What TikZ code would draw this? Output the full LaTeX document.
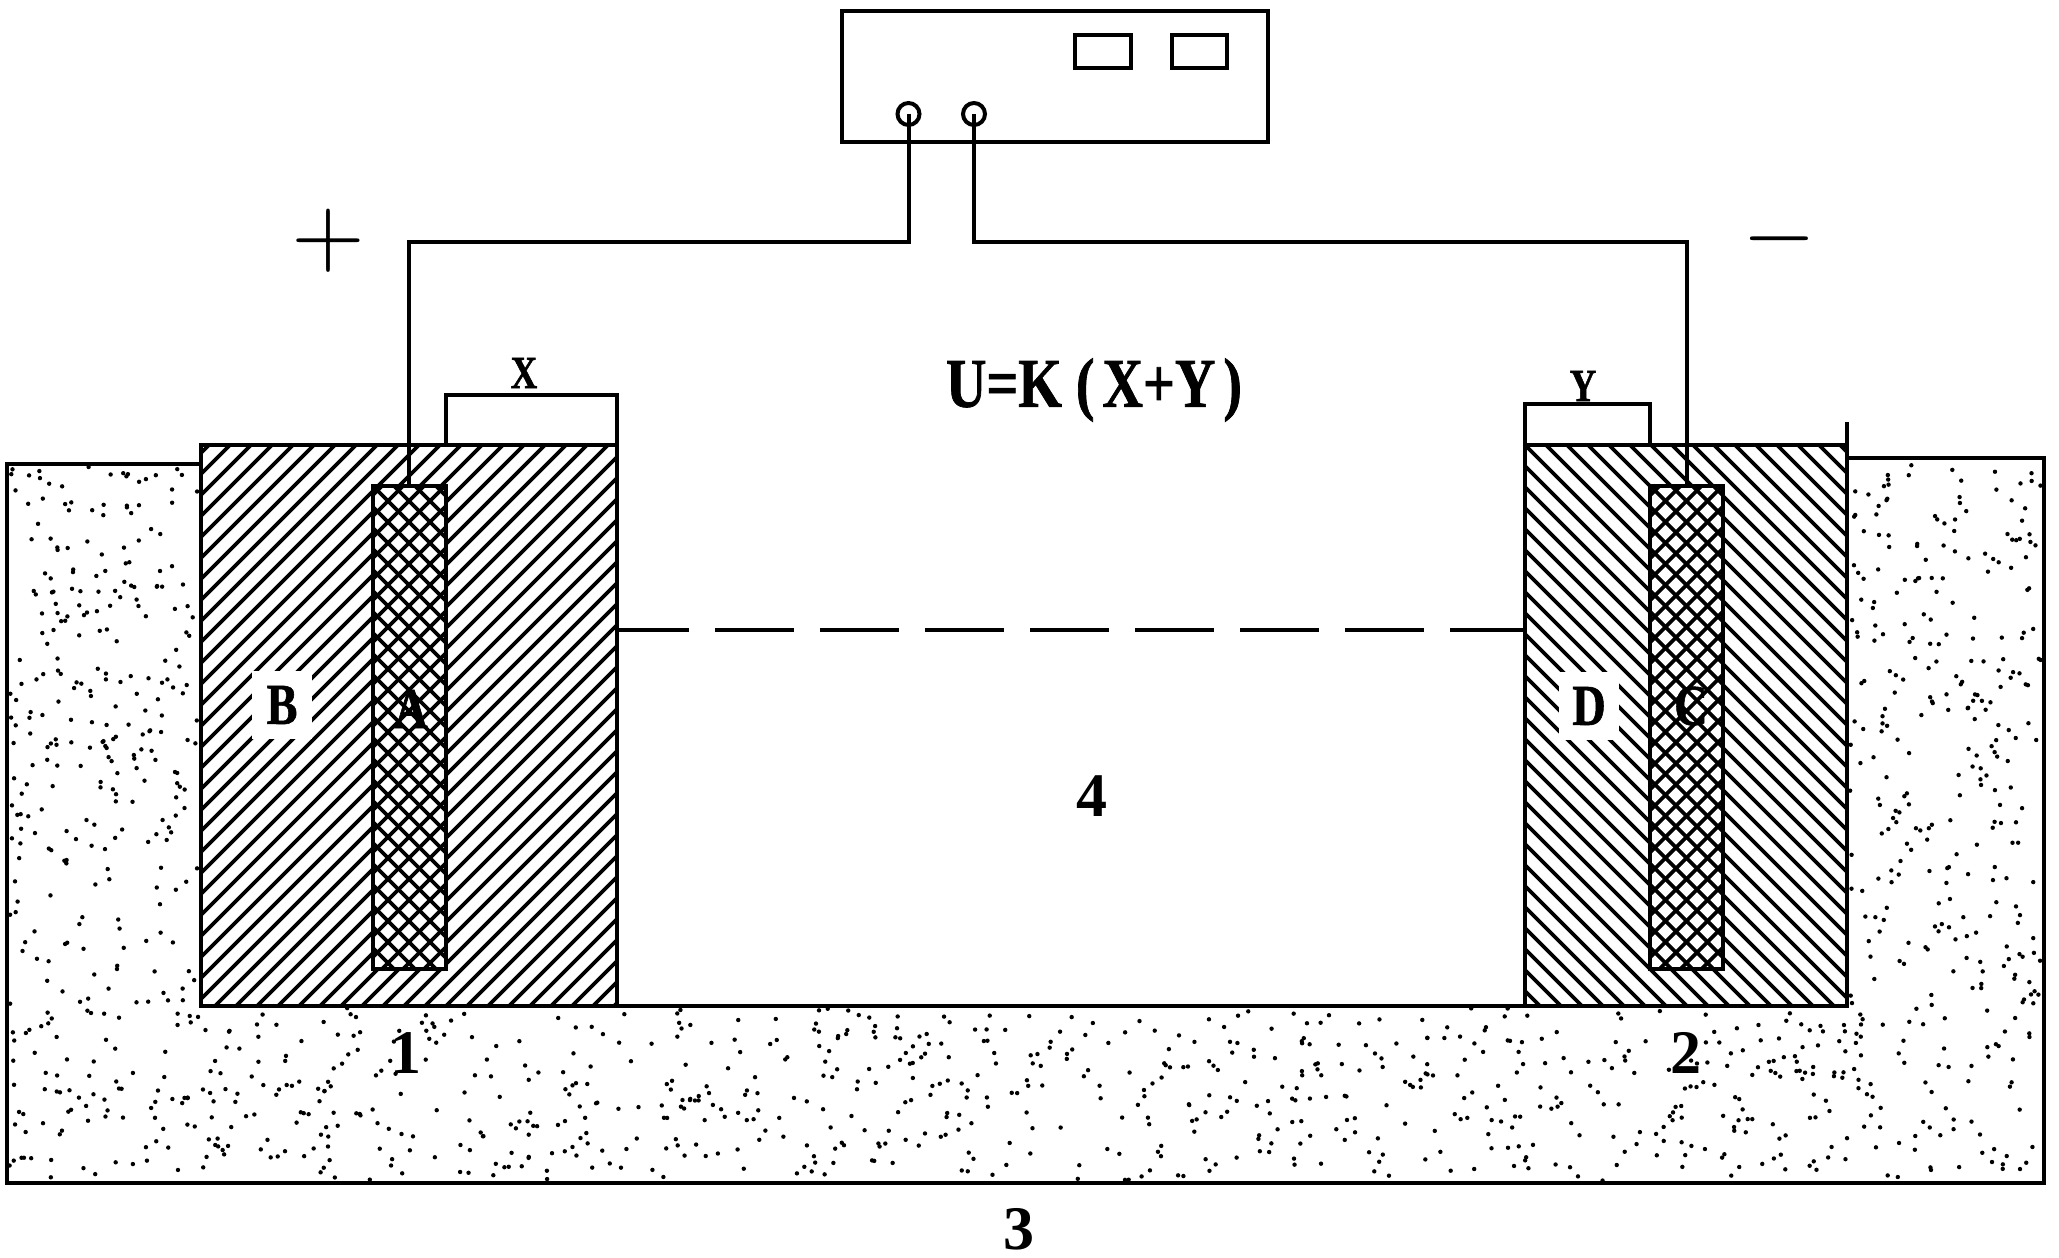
\documentclass[tikz,border=0pt]{standalone}
\usepackage{fontspec}
\setmainfont{Liberation Serif}
\newcommand{\hatchstep}{21}
\newcommand{\narrowbold}{\bfseries\addfontfeature{FakeStretch=0.8,FakeBold=1}}
\begin{document}
\begin{tikzpicture}[x=1pt, y=-1pt, line width=4pt,
        blockb/.style={rectangle, draw, inner sep=0, outer sep=0, minimum width=416pt, minimum height=561pt},
        blockd/.style={rectangle, draw, inner sep=0, outer sep=0, minimum width=322pt, minimum height=561pt},
        electrode/.style={rectangle, draw, inner sep=0, outer sep=0, minimum width=73pt, minimum height=483pt},
        meter/.style={rectangle, draw, inner sep=0, outer sep=0},
        jack/.style={circle, draw, inner sep=0, outer sep=0, minimum width=22pt},
        lbl/.style={inner sep=0, font=\fontsize{58}{58}\selectfont\narrowbold},
        small/.style={inner sep=0, font=\fontsize{46}{46}\selectfont\narrowbold},
        num/.style={inner sep=0, font=\bfseries\fontsize{62}{62}\selectfont},
        sign/.style={inner sep=0},
        halo/.style={fill=white, minimum width=60pt, minimum height=68pt},
    ]
    \useasboundingbox (0,0) rectangle (2059,1258);
    \fill[white] (0,0) rectangle (2059,1258);

    % soil
    \pgfmathsetseed{11}
    \foreach \xa/\xb/\ya/\yb/\num in {9/199/466/1006/270, 1849/2042/460/1006/270, 9/2042/1008/1181/860} {
        \foreach \i in {1,...,\num} {
            \fill ({\xa+(\xb-\xa)*rnd},{\ya+(\yb-\ya)*rnd}) circle (2.2pt);
        }
    }

    % blocks
    \node[blockb, fill=white] (B) at (409,725.5) {};
    \node[blockd, fill=white] (D) at (1686,725.5) {};
    \begin{scope}[line width=3.6pt]
        \clip (B.south west) rectangle (B.north east);
        \foreach \i in {0,...,50} {
            \draw (201+\i*\hatchstep-580,1012) -- ++(580,-580);
        }
    \end{scope}
    \begin{scope}[line width=3.6pt]
        \clip (D.south west) rectangle (D.north east);
        \foreach \i in {0,...,50} {
            \draw (1525+\i*\hatchstep-580,432) -- ++(580,580);
        }
    \end{scope}
    \node[blockb] at (B) {};
    \node[blockd] at (D) {};

    % electrodes
    \foreach \name/\xc in {A/409, C/1686.5} {
        \node[electrode, fill=white] (\name) at (\xc,727.5) {};
        \begin{scope}[line width=3.6pt]
            \clip (\name.south west) rectangle (\name.north east);
            \foreach \i in {-30,...,30} {
                \draw (\xc+\i*\hatchstep-500,980) -- ++(500,-500);
                \draw (\xc+\i*\hatchstep,480) -- ++(500,500);
            }
        \end{scope}
        \node[electrode] at (\name) {};
    }

    % ground outline, water level
    \draw (B.west |- 0,464) -- (7,464) -- (7,1183) -- (2044,1183) -- (2044,458) -- (D.east |- 0,458);
    \draw (B.south east) -- (D.south west);
    \coordinate (levelL) at (B.east |- 0,630);
    \coordinate (levelR) at (D.west |- 0,630);
    \draw[dash pattern=on 79pt off 26pt, dash phase=7pt] (levelL) -- (levelR);
    \coordinate (tick) at (D.east |- 0,422);
    \draw (D.north east) -- (tick);

    % meter
    \node[meter, minimum width=426pt, minimum height=131pt] (box) at (1055,76.5) {};
    \node[meter, minimum width=56pt, minimum height=33pt] (disp1) at (1103,51.5) {};
    \node[meter, minimum width=55pt, minimum height=33pt] (disp2) at (1199.5,51.5) {};
    \node[jack] (jackL) at (908.5,114) {};
    \node[jack] (jackR) at (974,114) {};

    % wires
    \coordinate (busy) at (0,242);
    \draw (jackL.center) -- (jackL.center |- busy) -| (A.north);
    \draw (jackR.center) -- (jackR.center |- busy) -| (C.north);

    % clamps
    \coordinate (xtop) at (0,395);
    \coordinate (ytop) at (0,404);
    \coordinate (xfoot) at (A.east |- B.north);
    \coordinate (yfoot) at (C.west |- D.north);
    \draw (xfoot) -- (xfoot |- xtop) -| (B.north east);
    \draw (D.north west) -- (D.north west |- ytop) -| (yfoot);

    % labels
    \node[lbl, halo] (lblB) at (282,705) {B};
    \node[lbl, halo] (lblD) at (1589,706) {D};
    \node[lbl] (lblA) at (411,709) {A};
    \node[lbl] (lblC) at (1691,706) {C};
    \node[small] (lblX) at (524,373) {X};
    \node[small] (lblY) at (1583,386) {Y};
    \node[inner sep=0, font=\fontsize{70}{70}\selectfont\narrowbold] (formula) at (1094,390) {U=K\kern14pt(\kern8pt X+Y\kern8pt)};
    \node[num] (n4) at (1092,796) {4};
    \node[num] (n1) at (406,1053) {1};
    \node[num] (n2) at (1686,1053) {2};
    \node[num] (n3) at (1019,1229) {3};
    \node[sign] (plus) at (328.5,240.5) {\scalebox{9.5}{$+$}};
    \node[sign] (minus) at (1779,239) {\scalebox{9.5}{$-$}};
\end{tikzpicture}
\end{document}
